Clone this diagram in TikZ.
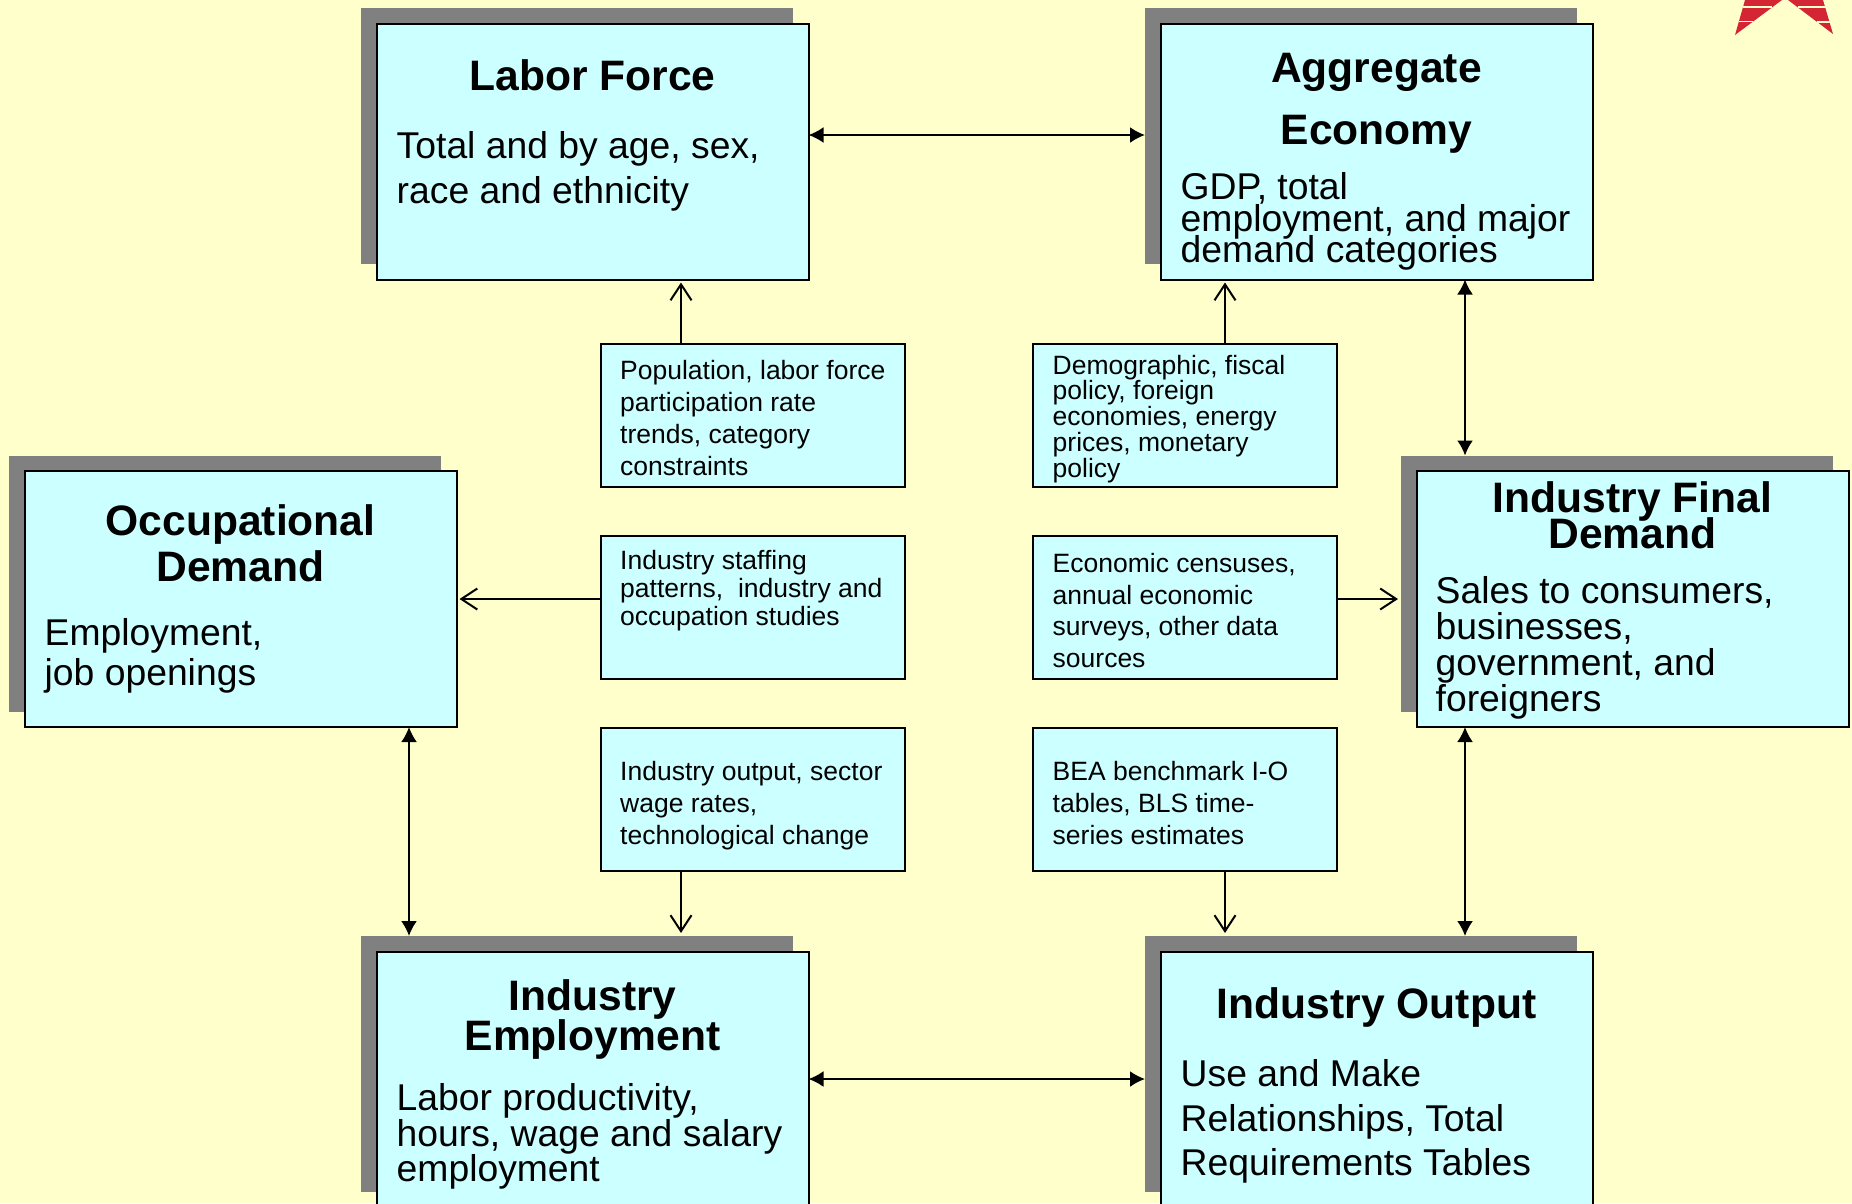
\documentclass[tikz,border=0pt]{standalone}
\usepackage{fontspec}
\setmainfont{Liberation Sans}
\usetikzlibrary{arrows.meta}
\definecolor{paper}{HTML}{FFFFCC}
\definecolor{boxfill}{HTML}{CCFFFF}
\definecolor{backgray}{HTML}{808080}
\definecolor{logored}{HTML}{D42535}
\newcommand{\tightlines}{\lineskiplimit -100pt\relax}
\tikzset{
  backbox/.style={fill=backgray,minimum width=432pt,minimum height=256pt,inner sep=0pt,outer sep=0pt},
  bigbox/.style={draw=black,line width=2pt,fill=boxfill,minimum width=432pt,minimum height=256pt,inner sep=0pt,outer sep=0pt,xshift=15.5pt,yshift=-15.5pt},
  smallbox/.style={draw=black,line width=2pt,fill=boxfill,minimum width=304pt,minimum height=143pt,inner sep=0pt,outer sep=0pt},
  titletext/.style={font=\fontsize{42.6}{#1}\selectfont\bfseries\tightlines,align=center,anchor=base,inner sep=0pt},
  bodytext/.style={font=\fontsize{37.3}{#1}\selectfont\tightlines,align=left,anchor=base west,inner sep=0pt},
  smalltext/.style={font=\fontsize{26.5}{#1}\selectfont\tightlines,align=left,anchor=base west,inner sep=0pt},
  twoway/.style={line width=2pt,{Latex[length=15pt,width=16pt]}-{Latex[length=15pt,width=16pt]}},
  oneway/.style={line width=2pt,-{Straight Barb[length=16pt,width=21pt]},shorten >=3pt}
}
\begin{document}
\begin{tikzpicture}[x=1pt,y=-1pt]
  \useasboundingbox (0,0) rectangle (1852,1203);
  \clip (0,0) rectangle (1852,1203);
  \fill[paper] (0,0) rectangle (1852,1203);
  %logo
  \fill[logored] (1735,35) -- (1745,0) -- (1782,0) -- cycle;
  \fill[logored] (1833,34) -- (1823,0) -- (1788,0) -- cycle;
  \draw[paper,line width=1.5pt] (1743,7) -- (1772,7) (1739,21.7) -- (1753,21.7) (1798,7) -- (1826,7) (1817,22) -- (1830,22);
  %big boxes
  \node[backbox] (laborback) at (577,136) {};
  \node[bigbox] (labor) at (laborback) {};
  \node[backbox] (aggback) at (1361,136) {};
  \node[bigbox] (agg) at (aggback) {};
  \node[backbox] (occback) at (225,583.5) {};
  \node[bigbox] (occ) at (occback) {};
  \node[backbox] (finalback) at (1617,583.5) {};
  \node[bigbox] (final) at (finalback) {};
  \node[backbox] (empback) at (577,1064) {};
  \node[bigbox] (emp) at (empback) {};
  \node[backbox] (outback) at (1361,1064) {};
  \node[bigbox] (out) at (outback) {};
  %small boxes
  \node[smallbox] (pop) at (753,415.5) {};
  \node[smallbox] (staff) at (753,607) {};
  \node[smallbox] (wage) at (753,799.5) {};
  \node[smallbox] (demo) at (1184.5,415.5) {};
  \node[smallbox] (census) at (1184.5,607) {};
  \node[smallbox] (bench) at (1184.5,799.5) {};
  %titles
  \node[titletext=44pt] (labortitle) at ([yshift=-67pt]labor.north) {Labor Force};
  \node[titletext=62.5pt] (aggtitle) at ([yshift=-121pt]agg.north) {Aggregate\\Economy};
  \node[titletext=46pt] (occtitle) at ([yshift=-110pt]occ.north) {Occupational\\Demand};
  \node[titletext=36pt] (finaltitle) at ([yshift=-77pt]final.north) {Industry Final\\Demand};
  \node[titletext=40pt] (emptitle) at ([yshift=-99pt]emp.north) {Industry\\Employment};
  \node[titletext=44pt] (outtitle) at ([yshift=-67pt]out.north) {Industry Output};
  %body text
  \node[bodytext=45pt] (labortext) at ([shift={(20,180)}]labor.north west) {Total and by age, sex,\\race and ethnicity};
  \node[bodytext=31.5pt] (aggtext) at ([shift={(20,239)}]agg.north west) {GDP, total\\employment, and major\\demand categories};
  \node[bodytext=40pt] (occtext) at ([shift={(20,214)}]occ.north west) {Employment,\\job openings};
  \node[bodytext=36pt] (finaltext) at ([shift={(19,240)}]final.north west) {Sales to consumers,\\businesses,\\government, and\\foreigners};
  \node[bodytext=35.5pt] (emptext) at ([shift={(20,230)}]emp.north west) {Labor productivity,\\hours, wage and salary\\employment};
  \node[bodytext=44.5pt] (outtext) at ([shift={(20,224)}]out.north west) {Use and Make\\Relationships, Total\\Requirements Tables};
  %small text
  \node[smalltext=32pt] (poptext) at ([shift={(19,131)}]pop.north west) {Population, labor force\\participation rate\\trends, category\\constraints};
  \node[smalltext=28pt] (stafftext) at ([shift={(19,90)}]staff.north west) {Industry staffing\\patterns,\ \ industry and\\occupation studies};
  \node[smalltext=32pt] (wagetext) at ([shift={(19,116)}]wage.north west) {Industry output, sector\\wage rates,\\technological change};
  \node[smalltext=25.7pt] (demotext) at ([shift={(20,133)}]demo.north west) {Demographic, fiscal\\policy, foreign\\economies, energy\\prices, monetary\\policy};
  \node[smalltext=31.7pt] (censustext) at ([shift={(20,132)}]census.north west) {Economic censuses,\\annual economic\\surveys, other data\\sources};
  \node[smalltext=32pt] (benchtext) at ([shift={(20,116)}]bench.north west) {BEA benchmark I-O\\tables, BLS time-\\series estimates};
  %connectors
  \coordinate (topline) at (0,135);
  \coordinate (bottomline) at (0,1079);
  \coordinate (midline) at (0,599);
  \coordinate (leftline) at (409,0);
  \coordinate (rightline) at (1465,0);
  \coordinate (popline) at (681,0);
  \coordinate (demoline) at (1225,0);
  \draw[twoway] (labor.east |- topline) -- (aggback.west |- topline);
  \draw[twoway] (emp.east |- bottomline) -- (outback.west |- bottomline);
  \draw[twoway] (agg.south -| rightline) -- (finalback.north -| rightline);
  \draw[twoway] (final.south -| rightline) -- (outback.north -| rightline);
  \draw[twoway] (occ.south -| leftline) -- (empback.north -| leftline);
  \draw[oneway] (pop.north -| popline) -- (labor.south -| popline);
  \draw[oneway] (demo.north -| demoline) -- (agg.south -| demoline);
  \draw[oneway] (staff.west |- midline) -- (occ.east |- midline);
  \draw[oneway] (census.east |- midline) -- (finalback.west |- midline);
  \draw[oneway] (wage.south -| popline) -- (empback.north -| popline);
  \draw[oneway] (bench.south -| demoline) -- (outback.north -| demoline);
\end{tikzpicture}
\end{document}
